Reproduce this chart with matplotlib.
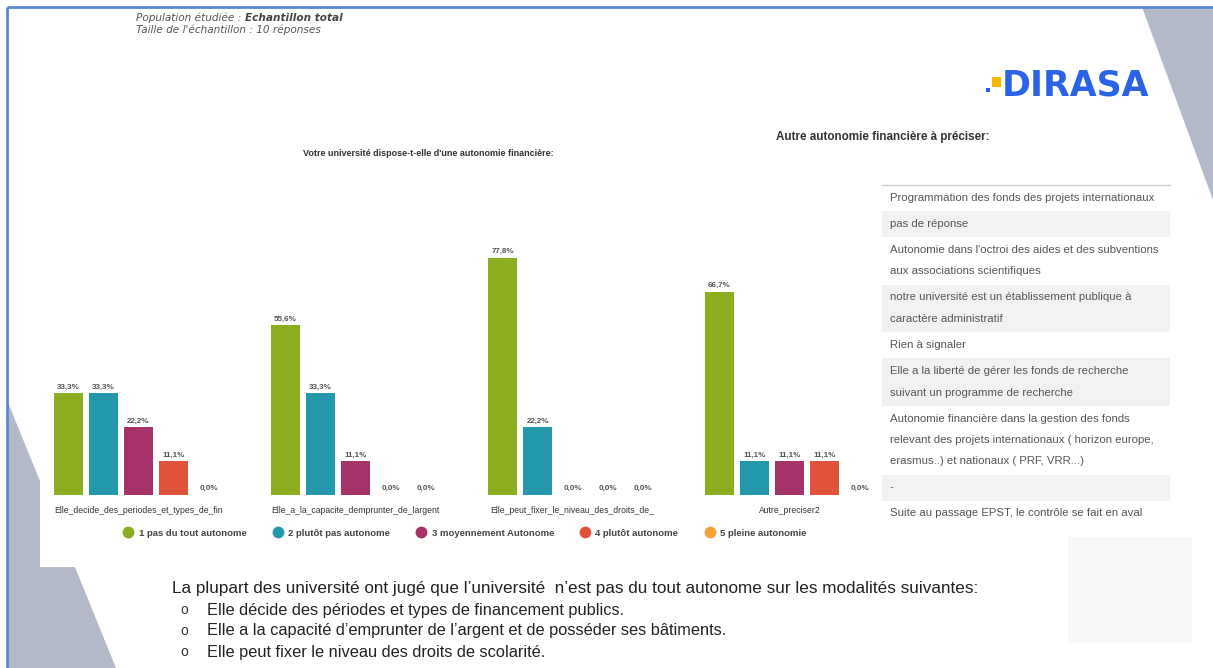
import matplotlib.pyplot as plt
import numpy as np
from matplotlib.lines import Line2D
from matplotlib.patches import Polygon, Rectangle

W, H = 1213, 668

# --- survey results (% of respondents) --------------------------------------
categories = [
    "Elle_decide_des_periodes_et_types_de_fin",
    "Elle_a_la_capacite_demprunter_de_largent",
    "Elle_peut_fixer_le_niveau_des_droits_de_",
    "Autre_preciser2",
]
levels = [
    "1 pas du tout autonome",
    "2 plutôt pas autonome",
    "3 moyennement Autonome",
    "4 plutôt autonome",
    "5 pleine autonomie",
]
level_colors = ["#8cae1e", "#2398ab", "#a5336a", "#e0533a", "#f5a238"]
pas_du_tout = [33.3, 55.6, 77.8, 66.7]
plutot_pas = [33.3, 33.3, 22.2, 11.1]
moyennement = [22.2, 11.1, 0.0, 11.1]
plutot_autonome = [11.1, 0.0, 0.0, 11.1]
pleine = [0.0, 0.0, 0.0, 0.0]
series = [pas_du_tout, plutot_pas, moyennement, plutot_autonome, pleine]

# free-text answers for "Autre"
autres_reponses = [
    "Programmation des fonds des projets internationaux",
    "pas de réponse",
    "Autonomie dans l'octroi des aides et des subventions\naux associations scientifiques",
    "notre université est un établissement publique à\ncaractère administratif",
    "Rien à signaler",
    "Elle a la liberté de gérer les fonds de recherche\nsuivant un programme de recherche",
    "Autonomie financière dans la gestion des fonds\nrelevant des projets internationaux ( horizon europe,\nerasmus..) et nationaux ( PRF, VRR...)",
    "-",
    "Suite au passage EPST, le contrôle se fait en aval",
]

conclusion = ("La plupart des université ont jugé que l\u2019université  n\u2019est pas du tout "
              "autonome sur les modalités suivantes:")
points = [
    "Elle décide des périodes et types de financement publics.",
    "Elle a la capacité d\u2019emprunter de l\u2019argent et de posséder ses bâtiments.",
    "Elle peut fixer le niveau des droits de scolarité.",
]


def fmt_pct(v):
    return f"{v:.1f}%".replace(".", ",")


fig = plt.figure(figsize=(W / 100, H / 100), dpi=100)

# slide background drawn in pixel coordinates
bg = fig.add_axes([0, 0, 1, 1])
bg.set_xlim(0, W)
bg.set_ylim(H, 0)
bg.axis("off")

slate = "#b3b9c8"
bg.add_patch(Polygon([(7, 400), (116, H), (7, H)], closed=True, color=slate, lw=0))
bg.add_patch(Polygon([(1142, 7), (W, 7), (W, 200)], closed=True, color=slate, lw=0))
bg.add_patch(Rectangle((40, 380), 860, 187, color="white", lw=0))
bg.add_patch(Rectangle((1068, 537), 124, 106, color="#f7f7f7", lw=0))
bg.plot([6.5, 6.5], [6.5, H], color="#5a8ad0", lw=2, solid_capstyle="butt")
bg.plot([6.5, W], [6.5, 6.5], color="#5a8ad0", lw=2, solid_capstyle="butt")

# header
pop = bg.text(136, 18, "Population étudiée : ", fontsize=7.6, style="italic", color="#555",
              va="center", ha="left")
bg.annotate("Echantillon total", xy=(1, 0.5), xycoords=pop, fontsize=7.6, style="italic",
            weight="bold", color="#444", va="center", ha="left")
bg.text(136, 30, "Taille de l'échantillon : 10 réponses", fontsize=7.6, style="italic",
        color="#555", va="center", ha="left")

# logo
bg.add_patch(Rectangle((992, 77), 9, 10, color="#f5b800", lw=0))
bg.add_patch(Rectangle((986, 88), 4, 4, color="#2b63e6", lw=0))
bg.text(1002, 85, "DIRASA", fontsize=25, weight="bold", color="#2b63e6",
        va="center", ha="left", family="DejaVu Sans")

# grouped bars
ax = fig.add_axes([40 / W, 1 - 495 / H, 820 / W, 305 / H])
ax.patch.set_alpha(0)
step = 6.2
group_x = np.arange(len(categories)) * step
for j, (vals, col) in enumerate(zip(series, level_colors)):
    bars = ax.bar(group_x + j, vals, width=0.82, color=col)
    ax.bar_label(bars, labels=[fmt_pct(v) for v in vals], padding=2,
                 fontsize=5.8, color="#555", fontweight="bold", family="Liberation Sans")
ax.set_xlim(-0.814, 22.61)
ax.set_ylim(0, 100)
ax.set_xticks(group_x + 2)
ax.set_xticklabels(categories, fontsize=6.2, color="#333", family="Liberation Sans")
ax.tick_params(axis="x", length=0, pad=8)
ax.set_yticks([])
for sp in ax.spines.values():
    sp.set_visible(False)

bg.text(428, 153, "Votre université dispose-t-elle d'une autonomie financière:",
        fontsize=6.5, weight="bold", color="#333", ha="center", va="center",
        family="Liberation Sans")

handles = [Line2D([], [], ls="", marker="o", markersize=7.5, color=c) for c in level_colors]
fig.legend(handles, levels, loc="center", bbox_to_anchor=(465 / W, 1 - 533 / H), ncol=5,
           frameon=False, prop={"family": "Liberation Sans", "size": 6.8, "weight": "bold"},
           labelcolor="#444", handlelength=1, handletextpad=0.6, columnspacing=2.8)

# "Autre" answers table
bg.text(776, 137, "Autre autonomie financière à préciser:", fontsize=8.4, weight="bold",
        color="#333", ha="left", va="center", family="Liberation Sans")
tx0, tx1 = 882, 1170
y = 185
bg.plot([tx0, tx1], [y, y], color="#cccccc", lw=1)
for i, txt in enumerate(autres_reponses):
    n = txt.count("\n") + 1
    h = 26 + 21.5 * (n - 1)
    if i % 2 == 1:
        bg.add_patch(Rectangle((tx0, y), tx1 - tx0, h, color="#f2f2f2", lw=0))
    for k, line in enumerate(txt.split("\n")):
        bg.text(890, y + 13 + 21.5 * k, line, fontsize=8.2, color="#555",
                ha="left", va="center", family="Liberation Sans")
    y += h

# conclusion text
bg.text(172, 588, conclusion, fontsize=12.3, color="#222", ha="left", va="center",
        family="Liberation Sans")
for k, p in enumerate(points):
    yy = 610 + 21 * k
    bg.text(180, yy, "o", fontsize=10, color="#333", ha="left", va="center",
            family="Liberation Sans")
    bg.text(207, yy, p, fontsize=11.8, color="#222", ha="left", va="center",
            family="Liberation Sans")

fig.savefig("out.png", dpi=100)
